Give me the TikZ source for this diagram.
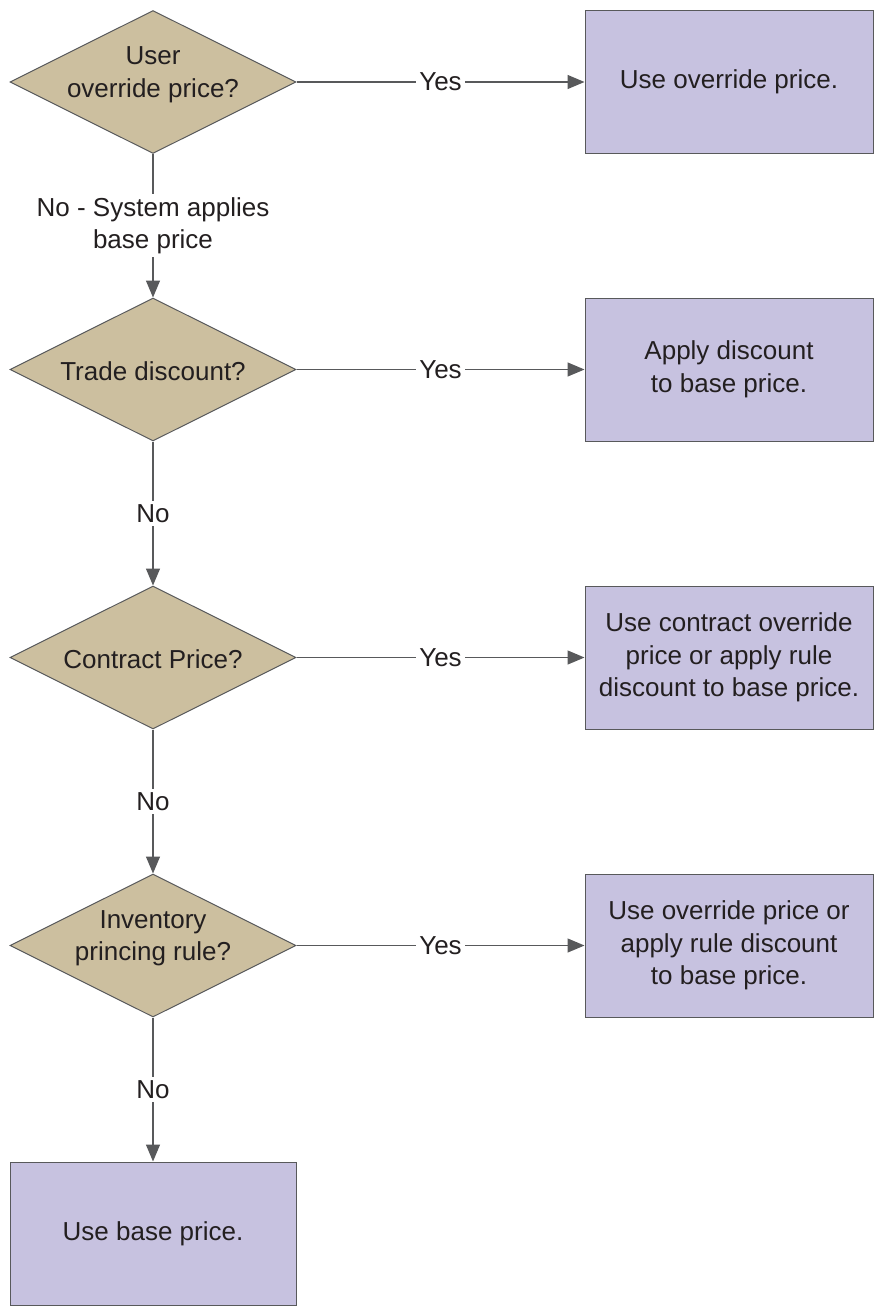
\documentclass[tikz,border=0pt]{standalone}
\usepackage{fontspec}
\setmainfont{Liberation Sans}
\usetikzlibrary{shapes.geometric,arrows.meta}
\definecolor{diafill}{HTML}{CCBF9F}
\definecolor{boxfill}{HTML}{C7C2E0}
\definecolor{edge}{HTML}{58595B}
\definecolor{txt}{HTML}{231F20}
\begin{document}
\begin{tikzpicture}[x=1pt,y=-1pt,
  every node/.style={font=\fontsize{26}{32.5}\selectfont, text=txt},
  dia/.style={diamond, draw=edge, fill=diafill, line width=1pt, minimum width=286pt, minimum height=143pt, aspect=2, inner sep=0pt},
  actbox/.style={rectangle, draw=edge, fill=boxfill, line width=1pt, minimum width=288pt, minimum height=143pt, inner sep=0pt, align=center},
  txtnode/.style={align=center, inner sep=0pt},
  conn/.style={draw=edge, line width=1.3pt, -{Triangle[length=17pt,width=14pt]}},
  lbl/.style={fill=white, inner sep=3pt, align=center}]
\useasboundingbox (0,0) rectangle (876,1306);

\node[dia] (d1) at (153,82) {};
\node[txtnode] (t1) at (153,75) {User\\override price?};
\node[dia] (d2) at (153,369.5) {};
\node[txtnode] (t2) at (153,371) {Trade discount?};
\node[dia] (d3) at (153,657.5) {};
\node[txtnode] (t3) at (153,659) {Contract Price?};
\node[dia] (d4) at (153,945.5) {};
\node[txtnode] (t4) at (153,938) {Inventory\\princing rule?};

\node[actbox] (b1) at (729,82) {Use override price.};
\node[actbox] (b2) at (729,369.5) {Apply discount\\to base price.};
\node[actbox] (b3) at (729,657.5) {Use contract override\\price or apply rule\\discount to base price.};
\node[actbox] (b4) at (729,945.5) {Use override price or\\apply rule discount\\to base price.};
\node[actbox, minimum width=286pt] (b5) at (153,1233.5) {Use base price.};

\draw[conn] (d1.east) -- node[lbl] {Yes} (b1.west);
\draw[conn] (d2.east) -- node[lbl] {Yes} (b2.west);
\draw[conn] (d3.east) -- node[lbl] {Yes} (b3.west);
\draw[conn] (d4.east) -- node[lbl] {Yes} (b4.west);

\draw[conn] (d1.south) -- node[lbl] {No - System applies\\base price} (d2.north);
\draw[conn] (d2.south) -- node[lbl] {No} (d3.north);
\draw[conn] (d3.south) -- node[lbl] {No} (d4.north);
\draw[conn] (d4.south) -- node[lbl] {No} (b5.north);
\end{tikzpicture}
\end{document}
